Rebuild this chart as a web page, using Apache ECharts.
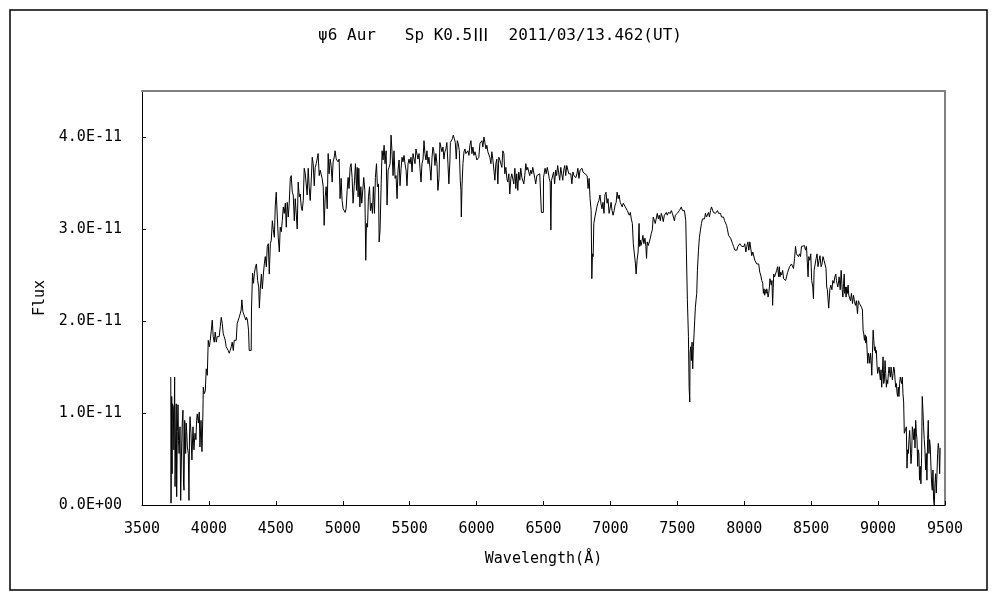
<!DOCTYPE html>
<html>
<head>
<meta charset="utf-8">
<script src="https://cdn.jsdelivr.net/npm/echarts@6/dist/echarts.min.js"></script>
<style>html,body{margin:0;padding:0;background:#fff}#chart{width:1000px;height:600px}</style>
</head>
<body>
<div id="chart"></div>
<script>
const titleParts = ['ψ6 Aur   Sp K0.5', 'Ⅲ', '  2011/03/13.462(UT)'];
const xAxisName = 'Wavelength(Å)';
const yAxisName = 'Flux';
const xTicks = [3500, 4000, 4500, 5000, 5500, 6000, 6500, 7000, 7500, 8000, 8500, 9000, 9500];
const yTicks = [0, 1, 2, 3, 4]; // units of 1E-11
// [wavelength (Å), flux (1E-11)]
const spectrum = [
[3715,1.39],[3717,0.02],[3722,1.18],[3725,0.34],[3727,1.10],[3734,1.07],[3738,0.60],[3744,1.39],[3747,0.20],[3752,0.78],
[3756,1.10],[3759,0.09],[3764,0.80],[3769,1.09],[3773,0.70],[3777,0.56],[3784,0.85],[3789,0.05],[3796,0.63],[3801,0.90],
[3806,1.03],[3810,0.24],[3814,0.16],[3819,0.92],[3826,0.56],[3830,0.89],[3834,0.80],[3839,0.63],[3846,0.56],[3851,0.05],
[3855,0.75],[3859,0.96],[3866,0.78],[3873,0.49],[3881,0.85],[3888,0.60],[3896,0.78],[3903,0.71],[3908,0.92],[3913,0.99],
[3921,0.89],[3928,1.01],[3933,0.63],[3941,0.92],[3948,0.58],[3955,0.99],[3958,1.28],[3965,1.21],[3973,1.24],[3980,1.48],
[3988,1.41],[3995,1.79],[4003,1.72],[4010,1.79],[4018,1.90],[4025,2.01],[4032,1.83],[4040,1.77],[4047,1.88],[4055,1.77],
[4062,1.83],[4070,1.81],[4077,1.83],[4085,1.94],[4092,2.04],[4100,1.97],[4107,1.86],[4114,1.83],[4122,1.79],[4129,1.72],
[4137,1.70],[4144,1.68],[4152,1.65],[4159,1.68],[4167,1.72],[4174,1.77],[4182,1.68],[4189,1.79],[4196,1.81],[4204,1.79],
[4211,1.97],[4219,1.97],[4226,2.04],[4234,2.08],[4241,2.12],[4246,2.23],[4254,2.10],[4261,2.12],[4268,2.08],[4276,2.01],
[4281,2.04],[4288,2.01],[4296,1.90],[4301,1.68],[4316,1.68],[4318,2.12],[4326,2.52],[4333,2.41],[4340,2.52],[4348,2.59],
[4355,2.62],[4364,2.44],[4372,2.37],[4377,2.14],[4384,2.35],[4392,2.51],[4399,2.35],[4407,2.51],[4414,2.62],[4421,2.70],
[4429,2.59],[4436,2.81],[4444,2.84],[4451,2.51],[4459,2.84],[4466,2.88],[4474,3.09],[4481,2.99],[4489,2.91],[4496,3.26],
[4503,3.40],[4511,3.13],[4518,2.91],[4526,2.75],[4533,3.02],[4541,2.97],[4548,3.09],[4556,3.24],[4563,3.17],[4571,3.28],
[4578,3.02],[4585,3.29],[4593,3.13],[4600,3.28],[4608,3.55],[4615,3.58],[4623,3.40],[4630,3.37],[4638,3.09],[4645,3.33],
[4652,3.31],[4660,3.00],[4667,3.51],[4675,3.35],[4682,3.38],[4690,3.24],[4697,3.20],[4705,3.31],[4712,3.66],[4720,3.60],
[4727,3.58],[4734,3.37],[4742,3.66],[4749,3.46],[4757,3.31],[4764,3.51],[4772,3.78],[4779,3.71],[4787,3.47],[4794,3.67],
[4802,3.71],[4809,3.69],[4816,3.82],[4824,3.58],[4831,3.64],[4839,3.62],[4846,3.55],[4854,3.46],[4861,3.04],[4869,3.35],
[4876,3.46],[4884,3.22],[4891,3.82],[4898,3.60],[4906,3.76],[4913,3.69],[4921,3.51],[4928,3.73],[4936,3.78],[4943,3.85],
[4951,3.76],[4958,3.75],[4965,3.73],[4973,3.76],[4980,3.33],[4988,3.55],[4995,3.31],[5003,3.22],[5010,3.24],[5018,3.18],
[5025,3.22],[5033,3.42],[5040,3.56],[5047,3.44],[5055,3.67],[5062,3.71],[5070,3.56],[5077,3.28],[5085,3.46],[5088,3.53],
[5095,3.71],[5103,3.42],[5108,3.67],[5115,3.35],[5120,3.66],[5128,3.24],[5135,3.46],[5142,3.28],[5150,3.29],[5157,3.56],
[5165,3.42],[5172,2.66],[5177,3.06],[5185,3.02],[5192,3.35],[5200,3.46],[5207,3.20],[5214,3.28],[5222,3.17],[5229,3.46],
[5237,3.17],[5244,3.56],[5252,3.71],[5259,3.46],[5267,3.49],[5272,2.86],[5279,2.99],[5287,3.49],[5294,3.85],[5301,3.75],
[5309,3.91],[5316,3.71],[5324,3.85],[5331,3.26],[5339,3.64],[5346,3.67],[5354,3.71],[5361,4.02],[5368,3.84],[5376,3.58],
[5383,3.85],[5391,3.55],[5398,3.58],[5406,3.33],[5413,3.64],[5421,3.75],[5428,3.47],[5436,3.66],[5443,3.78],[5450,3.73],
[5458,3.80],[5465,3.71],[5473,3.64],[5480,3.47],[5488,3.71],[5495,3.76],[5503,3.71],[5510,3.78],[5518,3.62],[5525,3.82],
[5532,3.84],[5540,3.71],[5547,3.87],[5555,3.89],[5562,3.76],[5570,3.82],[5577,3.66],[5585,3.51],[5592,3.71],[5600,3.76],
[5607,3.96],[5614,3.82],[5622,3.75],[5629,3.85],[5637,3.71],[5644,3.78],[5652,3.66],[5659,3.53],[5667,3.78],[5674,3.89],
[5681,3.84],[5689,3.69],[5696,3.82],[5704,3.71],[5711,3.42],[5719,3.55],[5726,3.94],[5734,3.93],[5741,3.84],[5749,3.89],
[5756,3.76],[5763,3.84],[5771,3.87],[5778,3.94],[5786,3.71],[5793,3.49],[5801,3.75],[5804,3.94],[5811,3.93],[5819,3.98],
[5826,4.02],[5834,3.98],[5841,3.94],[5848,3.76],[5856,3.96],[5863,3.93],[5871,3.85],[5878,3.53],[5883,3.42],[5886,3.13],
[5891,3.46],[5898,3.71],[5906,3.84],[5913,3.87],[5920,3.82],[5928,3.84],[5935,3.85],[5943,3.80],[5950,3.91],[5958,3.96],
[5965,3.82],[5973,3.89],[5980,3.80],[5988,3.84],[5995,3.80],[6002,3.75],[6010,3.73],[6017,3.78],[6025,3.93],[6032,3.91],
[6040,3.96],[6047,3.89],[6055,4.00],[6062,4.02],[6070,3.87],[6077,3.91],[6084,3.84],[6092,3.82],[6099,3.78],[6107,3.71],
[6114,3.84],[6122,3.75],[6129,3.76],[6137,3.53],[6144,3.71],[6151,3.76],[6159,3.49],[6166,3.78],[6174,3.75],[6181,3.73],
[6189,3.67],[6196,3.85],[6204,3.82],[6211,3.60],[6219,3.67],[6226,3.55],[6233,3.51],[6241,3.60],[6248,3.38],[6256,3.55],
[6263,3.60],[6271,3.62],[6278,3.49],[6286,3.66],[6293,3.44],[6300,3.60],[6308,3.42],[6315,3.62],[6323,3.53],[6330,3.66],
[6338,3.56],[6345,3.55],[6353,3.49],[6360,3.58],[6368,3.71],[6375,3.64],[6382,3.67],[6390,3.62],[6397,3.58],[6405,3.64],
[6412,3.60],[6420,3.67],[6427,3.66],[6435,3.55],[6442,3.49],[6450,3.58],[6457,3.60],[6464,3.56],[6472,3.60],[6479,3.60],
[6484,3.18],[6499,3.18],[6500,3.56],[6507,3.55],[6512,3.66],[6520,3.60],[6528,3.67],[6535,3.62],[6543,3.55],[6550,3.51],
[6555,2.99],[6560,3.53],[6568,3.55],[6576,3.62],[6583,3.49],[6591,3.64],[6598,3.58],[6606,3.69],[6613,3.71],[6621,3.53],
[6629,3.67],[6636,3.60],[6644,3.53],[6651,3.64],[6659,3.69],[6666,3.58],[6674,3.69],[6682,3.69],[6689,3.60],[6697,3.58],
[6704,3.60],[6712,3.49],[6720,3.62],[6727,3.58],[6735,3.60],[6742,3.56],[6750,3.60],[6757,3.66],[6765,3.55],[6773,3.64],
[6780,3.62],[6788,3.66],[6795,3.62],[6803,3.60],[6810,3.60],[6818,3.60],[6826,3.58],[6833,3.44],[6841,3.55],[6848,3.33],
[6856,3.20],[6861,2.46],[6866,2.73],[6871,2.70],[6876,3.06],[6884,3.13],[6891,3.13],[6899,3.24],[6906,3.28],[6914,3.31],
[6922,3.37],[6929,3.28],[6937,3.22],[6944,3.29],[6952,3.17],[6959,3.37],[6967,3.40],[6975,3.28],[6982,3.33],[6990,3.17],
[6997,3.22],[7005,3.29],[7012,3.20],[7020,3.15],[7028,3.20],[7035,3.26],[7043,3.29],[7050,3.40],[7058,3.33],[7065,3.37],
[7073,3.29],[7081,3.29],[7088,3.24],[7096,3.28],[7103,3.26],[7111,3.24],[7118,3.22],[7126,3.20],[7134,3.22],[7141,3.15],
[7149,3.18],[7156,3.11],[7164,3.06],[7171,2.84],[7179,2.82],[7187,2.62],[7192,2.51],[7199,2.66],[7207,2.75],[7214,3.06],
[7218,2.81],[7223,2.88],[7228,2.82],[7235,2.86],[7243,2.93],[7250,2.84],[7258,2.90],[7265,2.81],[7270,2.68],[7275,2.86],
[7283,2.82],[7290,2.84],[7298,2.90],[7305,2.95],[7313,2.99],[7320,3.13],[7328,3.15],[7335,3.06],[7343,3.08],[7350,3.17],
[7358,3.11],[7365,3.15],[7373,3.09],[7380,3.17],[7388,3.13],[7395,3.08],[7403,3.15],[7410,3.13],[7418,3.18],[7425,3.15],
[7433,3.18],[7440,3.20],[7448,3.17],[7455,3.20],[7463,3.17],[7470,3.18],[7478,3.09],[7485,3.15],[7493,3.13],[7500,3.17],
[7508,3.18],[7515,3.20],[7523,3.22],[7530,3.24],[7538,3.20],[7545,3.22],[7553,3.20],[7558,3.22],[7563,3.09],[7568,2.73],
[7575,2.23],[7583,1.83],[7588,1.28],[7593,1.12],[7595,1.65],[7600,1.72],[7605,1.57],[7610,1.77],[7615,1.48],[7620,1.72],
[7625,1.86],[7630,2.01],[7635,2.15],[7640,2.23],[7645,2.30],[7650,2.55],[7658,2.77],[7665,2.91],[7673,2.99],[7680,3.06],
[7688,3.11],[7695,3.13],[7703,3.11],[7710,3.17],[7718,3.13],[7725,3.15],[7733,3.18],[7740,3.13],[7748,3.20],[7755,3.24],
[7763,3.22],[7770,3.18],[7778,3.20],[7785,3.17],[7793,3.18],[7800,3.20],[7808,3.17],[7815,3.15],[7823,3.17],[7830,3.13],
[7838,3.15],[7845,3.13],[7853,3.09],[7860,3.08],[7868,3.04],[7875,2.99],[7883,2.93],[7890,2.91],[7898,2.90],[7905,2.88],
[7913,2.84],[7920,2.81],[7923,2.79],[7930,2.77],[7938,2.79],[7945,2.77],[7952,2.81],[7960,2.82],[7967,2.84],[7975,2.82],
[7982,2.81],[7990,2.82],[7997,2.81],[8004,2.84],[8012,2.75],[8019,2.81],[8027,2.86],[8034,2.77],[8042,2.86],[8049,2.84],
[8056,2.71],[8064,2.75],[8071,2.77],[8079,2.66],[8086,2.64],[8093,2.62],[8101,2.64],[8108,2.62],[8116,2.53],[8123,2.50],
[8131,2.44],[8138,2.41],[8143,2.30],[8148,2.35],[8153,2.28],[8158,2.34],[8163,2.30],[8168,2.35],[8173,2.32],[8178,2.26],
[8183,2.30],[8188,2.37],[8192,2.46],[8197,2.44],[8202,2.39],[8207,2.44],[8212,2.17],[8215,2.30],[8220,2.51],[8227,2.48],
[8235,2.46],[8242,2.55],[8249,2.59],[8257,2.48],[8262,2.59],[8267,2.48],[8272,2.53],[8279,2.50],[8287,2.55],[8294,2.46],
[8301,2.44],[8309,2.44],[8316,2.48],[8324,2.53],[8331,2.55],[8339,2.59],[8346,2.61],[8353,2.62],[8361,2.61],[8368,2.57],
[8376,2.68],[8383,2.81],[8390,2.73],[8398,2.75],[8405,2.70],[8413,2.73],[8420,2.70],[8428,2.81],[8435,2.79],[8442,2.79],
[8450,2.82],[8457,2.77],[8465,2.81],[8472,2.79],[8477,2.48],[8482,2.70],[8490,2.66],[8497,2.73],[8504,2.44],[8512,2.37],
[8517,2.24],[8522,2.55],[8529,2.55],[8537,2.68],[8544,2.73],[8551,2.59],[8559,2.66],[8566,2.71],[8574,2.59],[8581,2.62],
[8588,2.70],[8596,2.66],[8603,2.64],[8611,2.57],[8616,2.37],[8621,2.34],[8626,2.32],[8631,2.14],[8640,2.35],[8647,2.39],
[8655,2.34],[8662,2.44],[8670,2.41],[8677,2.48],[8684,2.51],[8689,2.44],[8694,2.46],[8699,2.37],[8704,2.41],[8709,2.48],
[8717,2.34],[8724,2.55],[8732,2.34],[8737,2.26],[8742,2.41],[8747,2.51],[8751,2.30],[8756,2.37],[8761,2.26],[8766,2.37],
[8771,2.30],[8776,2.39],[8781,2.28],[8786,2.30],[8794,2.22],[8801,2.30],[8809,2.19],[8816,2.28],[8824,2.21],[8831,2.17],
[8838,2.22],[8846,2.08],[8853,2.22],[8861,2.19],[8868,2.21],[8876,2.15],[8883,2.12],[8888,1.90],[8893,1.86],[8898,1.79],
[8903,1.85],[8908,1.76],[8913,1.83],[8918,1.68],[8923,1.54],[8928,1.65],[8933,1.61],[8938,1.54],[8943,1.65],[8948,1.57],
[8953,1.41],[8958,1.66],[8963,1.90],[8968,1.79],[8973,1.68],[8978,1.72],[8983,1.65],[8987,1.68],[8992,1.52],[8997,1.43],
[9002,1.47],[9007,1.50],[9012,1.52],[9017,1.36],[9022,1.47],[9027,1.28],[9032,1.43],[9037,1.61],[9042,1.32],[9047,1.36],
[9052,1.57],[9057,1.43],[9062,1.28],[9067,1.36],[9072,1.32],[9077,1.43],[9082,1.50],[9087,1.43],[9092,1.39],[9097,1.50],
[9102,1.48],[9107,1.36],[9112,1.43],[9117,1.50],[9122,1.47],[9127,1.36],[9132,1.28],[9137,1.32],[9142,1.21],[9146,1.18],
[9151,1.28],[9156,1.18],[9161,1.32],[9166,1.39],[9171,1.38],[9176,1.32],[9181,1.39],[9186,1.21],[9191,1.12],[9196,0.78],
[9201,0.76],[9206,0.76],[9211,0.85],[9216,0.40],[9221,0.60],[9226,0.56],[9231,0.71],[9236,0.81],[9241,0.80],[9246,0.45],
[9251,0.56],[9256,0.85],[9261,0.80],[9266,0.71],[9271,0.83],[9276,0.62],[9281,0.92],[9286,0.78],[9291,0.71],[9296,0.42],
[9300,0.60],[9305,0.56],[9310,0.27],[9315,0.42],[9320,0.23],[9325,0.52],[9330,1.18],[9335,1.03],[9340,0.85],[9345,0.71],
[9350,0.60],[9355,0.38],[9360,0.56],[9365,0.27],[9370,0.71],[9375,0.92],[9380,0.56],[9385,0.71],[9390,0.63],[9395,0.42],
[9400,0.23],[9405,0.16],[9410,0.38],[9415,0.05],[9420,0.00],[9425,0.23],[9430,0.34],[9435,0.13],[9440,0.34],[9445,0.56],
[9450,0.67],[9455,0.60],[9460,0.34],[9464,0.62]
];

const FONT = '"DejaVu Sans Mono", "Noto Sans CJK JP", monospace';
const chart = echarts.init(document.getElementById('chart'), null, {renderer: 'canvas'});
const fmtY = v => (v === 0 ? '0.0E+00' : v.toFixed(1) + 'E-11');

chart.setOption({
  animation: false,
  backgroundColor: '#ffffff',
  title: {
    text: '{a|' + titleParts[0] + '}{b|' + titleParts[1] + '}{a|' + titleParts[2] + '}',
    left: 'center', top: 20,
    textStyle: {
      fontFamily: FONT, fontSize: 16, fontWeight: 'normal', color: '#000', lineHeight: 22,
      rich: {
        a: {fontFamily: FONT, fontSize: 16, color: '#000', lineHeight: 22, verticalAlign: 'middle'},
        b: {fontFamily: '"Noto Sans CJK JP"', fontSize: 17, color: '#000', lineHeight: 22, verticalAlign: 'middle', padding: [0, 0, 2, 0]}
      }
    }
  },
  graphic: [{
    type: 'rect', shape: {x: 10, y: 10, width: 977, height: 580},
    style: {fill: 'none', stroke: '#000', lineWidth: 1.5}, silent: true
  }],
  grid: {left: 142, right: 55, top: 91, bottom: 95, show: false},
  xAxis: [{
    type: 'value', min: xTicks[0], max: xTicks[xTicks.length - 1], interval: 500,
    name: xAxisName, nameLocation: 'middle', nameGap: 47,
    nameTextStyle: {fontFamily: FONT, fontSize: 15, color: '#000', verticalAlign: 'top'},
    axisLine: {show: true, lineStyle: {color: '#000', width: 1}},
    axisTick: {show: true, inside: true, length: 4, lineStyle: {color: '#000'}},
    axisLabel: {fontFamily: FONT, fontSize: 15, color: '#000', margin: 17, formatter: v => String(v)},
    splitLine: {show: false}
  }, {
    type: 'value', position: 'top', min: xTicks[0], max: xTicks[xTicks.length - 1],
    axisLine: {show: true, onZero: false, lineStyle: {color: '#808080', width: 2}},
    axisTick: {show: false}, axisLabel: {show: false}, splitLine: {show: false}
  }],
  yAxis: [{
    type: 'value', min: 0, max: 4.5,
    name: yAxisName, nameLocation: 'middle', nameGap: 93,
    nameTextStyle: {fontFamily: FONT, fontSize: 15, color: '#000'},
    axisLine: {show: true, lineStyle: {color: '#000', width: 1}},
    axisTick: {show: true, inside: true, length: 4, lineStyle: {color: '#000'}, customValues: yTicks},
    axisLabel: {fontFamily: FONT, fontSize: 15, color: '#000', margin: 20, customValues: yTicks, formatter: fmtY},
    splitLine: {show: false}
  }, {
    type: 'value', position: 'right', min: 0, max: 4.5,
    axisLine: {show: true, onZero: false, lineStyle: {color: '#808080', width: 2}},
    axisTick: {show: false}, axisLabel: {show: false}, splitLine: {show: false}
  }],
  series: [{
    type: 'line', xAxisIndex: 0, yAxisIndex: 0,
    data: spectrum, showSymbol: false, symbol: 'none',
    lineStyle: {color: '#000', width: 1}, silent: true
  }]
});
</script>
</body>
</html>
